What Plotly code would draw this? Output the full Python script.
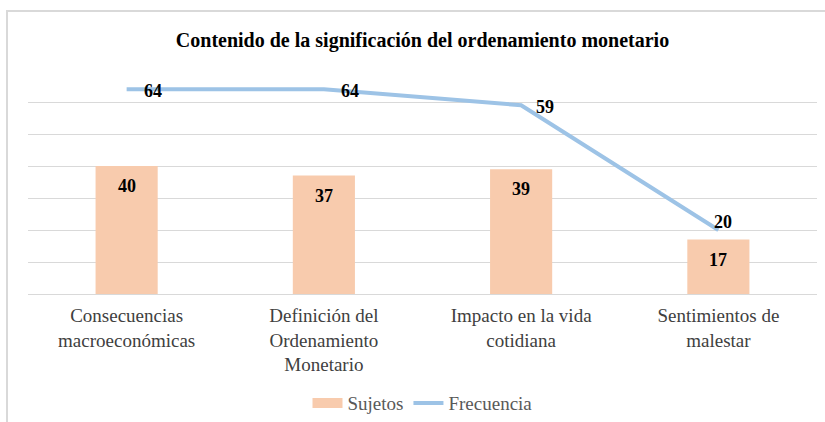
import plotly.graph_objects as go

categories = ["Consecuencias<br>macroeconómicas", "Definición del<br>Ordenamiento<br>Monetario",
              "Impacto en la vida<br>cotidiana", "Sentimientos de<br>malestar"]
sujetos = [40, 37, 39, 17]
frecuencia = [64, 64, 59, 20]
y_ticks = [0, 10, 20, 30, 40, 50, 60, 70]

title = "Contenido de la significación del ordenamiento monetario"
FONT = "Times New Roman"
GRID = "#D9D9D9"
BAR_COLOR = "#F8CBAD"
LINE_COLOR = "#9DC3E6"

fig = go.Figure()
fig.add_trace(go.Bar(x=categories, y=sujetos, name="Sujetos", showlegend=False,
                     marker=dict(color=BAR_COLOR, line=dict(width=0))))
# legend entry for the bars (wide swatch like the original)
fig.add_trace(go.Scatter(x=[None], y=[None], name="Sujetos", mode="lines",
                         line=dict(color=BAR_COLOR, width=10), hoverinfo="skip"))
fig.add_trace(go.Scatter(x=categories, y=frecuencia, name="Frecuencia", mode="lines",
                         line=dict(color=LINE_COLOR, width=4)))

annotations = []
for c, v in zip(categories, sujetos):
    annotations.append(dict(x=c, y=v, xref="x", yref="y", text="<b>" + str(v) + "</b>", showarrow=False,
                            yanchor="middle", yshift=-20,
                            font=dict(family=FONT, size=18, color="#000000")))
line_label_shift = [(26, -2), (26, -2), (24, -2), (5, 8)]
for c, v, (dx, dy) in zip(categories, frecuencia, line_label_shift):
    annotations.append(dict(x=c, y=v, xref="x", yref="y", text="<b>" + str(v) + "</b>", showarrow=False,
                            yanchor="middle", xanchor="center", xshift=dx, yshift=dy,
                            font=dict(family=FONT, size=18, color="#000000")))

fig.update_layout(
    width=825, height=422,
    margin=dict(l=28, r=8, t=70, b=128, autoexpand=False),
    paper_bgcolor="white", plot_bgcolor="white",
    font=dict(family=FONT),
    title=dict(text="<b>" + title + "</b>", x=0.5, xanchor="center", xref="paper",
               y=1 - 40 / 422, yanchor="middle",
               font=dict(family=FONT, size=20, color="#000000")),
    bargap=0.685,
    showlegend=True,
    legend=dict(orientation="h", x=0.5, xanchor="center", y=-0.487, yanchor="middle",
                font=dict(family=FONT, size=19, color="#595959"),
                itemwidth=30, traceorder="normal"),
    annotations=annotations,
    shapes=[
        dict(type="path", xref="paper", yref="paper",
             path="M -0.0266,-0.58 L -0.0266,1.2634 L 1.02,1.2634",
             line=dict(color=GRID, width=2), layer="above"),
    ],
)
fig.update_xaxes(showgrid=False, showline=False, ticks="", automargin=False, ticklabelstandoff=8,
                 tickfont=dict(family=FONT, size=19, color="#404040"))
fig.update_yaxes(range=[0, 70], tickvals=y_ticks, showticklabels=False, showgrid=True, automargin=False,
                 gridcolor=GRID, gridwidth=1, zeroline=True, zerolinecolor=GRID, zerolinewidth=1)

fig.write_html("out.html", config={"displayModeBar": False},
               post_script="document.body.style.margin='0px';document.body.style.overflow='hidden';")
